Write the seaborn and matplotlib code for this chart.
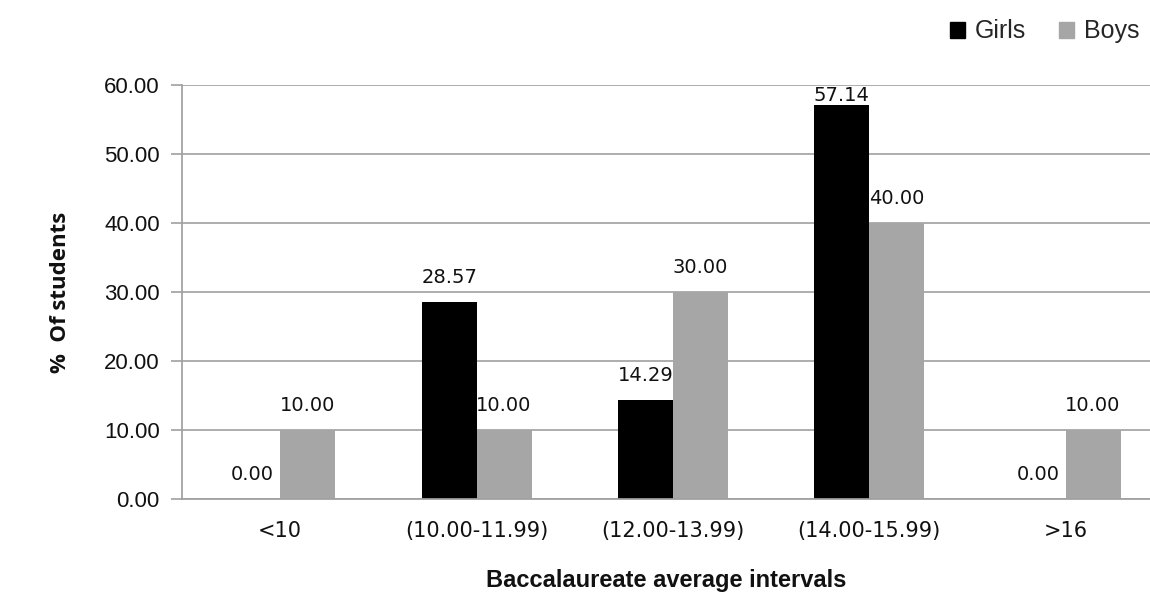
import pandas as pd
import seaborn as sns
import matplotlib.pyplot as plt
from matplotlib.patches import Patch

# data
categories = ['<10', '(10.00-11.99)', '(12.00-13.99)', '(14.00-15.99)', '>16']
girls = [0.00, 28.57, 14.29, 57.14, 0.00]
boys = [10.00, 10.00, 30.00, 40.00, 10.00]

df = pd.DataFrame({'Interval': categories * 2,
                   'Percent': girls + boys,
                   'Group': ['Girls'] * 5 + ['Boys'] * 5})

sns.set_theme(style='white')
plt.rcParams['font.family'] = ['Liberation Sans', 'DejaVu Sans']

fig = plt.figure(figsize=(11.5, 6.06), dpi=100)
ax = fig.add_axes([0.1583, 0.1766, 0.8417, 0.6831])

sns.barplot(data=df, x='Interval', y='Percent', hue='Group',
            palette={'Girls': '#000000', 'Boys': '#a6a6a6'},
            width=0.56, saturation=1, linewidth=0, ax=ax, legend=False)

for cont in ax.containers:
    labels = ax.bar_label(cont, fmt='%.2f', padding=11, fontsize=14,
                          family='DejaVu Sans', color='#111111')
    # label of the tallest bar is pulled down so it stays inside the plot area
    for lab, bar in zip(labels, cont):
        if bar.get_height() > 55:
            lab.xyann = (0, 0)

ax.set_ylim(0, 60)
ax.set_xlim(-0.5, 4.43)
ax.set_yticks(range(0, 61, 10))
ax.set_yticklabels([f'{v:.2f}' for v in range(0, 61, 10)], fontsize=16, color='#111111')
ax.set_xticks(range(len(categories)))
ax.set_xticklabels(categories, fontsize=15, family='DejaVu Sans', color='#111111')
ax.yaxis.grid(True, color='#a0a0a0', linewidth=1.2)
ax.set_axisbelow(True)
for s in ['top', 'right']:
    ax.spines[s].set_visible(False)
ax.spines['left'].set_color('#a0a0a0')
ax.spines['bottom'].set_color('#a0a0a0')
ax.tick_params(axis='y', left=True, length=8, color='#a0a0a0', pad=8, width=1.2)
ax.tick_params(axis='x', bottom=False, pad=10)

ax.set_xlabel('Baccalaureate average intervals', fontsize=17, fontweight='bold',
              labelpad=20, color='#111111')
ax.set_ylabel('%  Of students', fontsize=16, fontweight='bold', family='Open Sans',
              labelpad=24, color='#111111')

# legend in the top right corner
handles = [Patch(color='#000000', label='Girls'), Patch(color='#a6a6a6', label='Boys')]
fig.legend(handles=handles, loc='upper right', bbox_to_anchor=(1.01, 1.005), ncol=2,
           frameon=False, fontsize=18, handlelength=0.6, handleheight=0.6,
           handletextpad=0.4, columnspacing=1.3)

plt.savefig('out.png', dpi=100)
